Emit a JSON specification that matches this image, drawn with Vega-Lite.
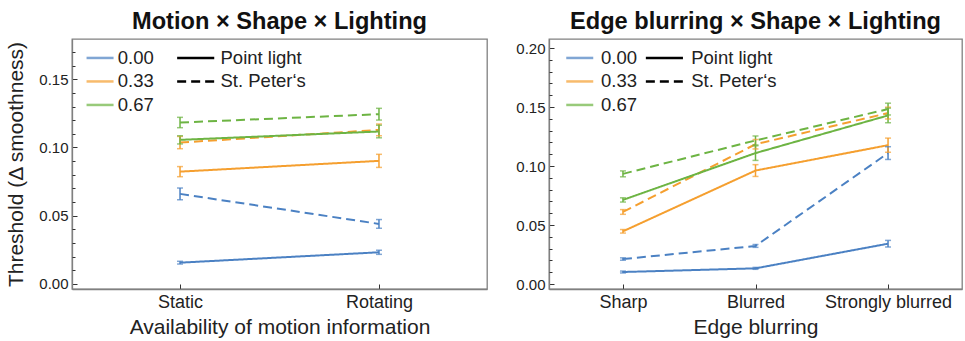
{
  "$schema": "https://vega.github.io/schema/vega-lite/v6.json",
  "background": "white",
  "padding": {"left": 5, "top": 9, "right": 0, "bottom": 0},
  "config": {
    "font": "Liberation Sans",
    "view": {"stroke": "#808080", "strokeWidth": 1.3},
    "axis": {"domainColor": "#808080", "domainWidth": 1.3, "tickColor": "#333333", "tickWidth": 1, "grid": false, "labelColor": "#222222", "titleColor": "#222222", "titleFontWeight": "normal", "titleFontSize": 21, "labelFont": "Liberation Sans", "titleFont": "Liberation Sans"},
    "title": {"fontSize": 23.6, "fontWeight": "bold", "color": "#111111", "anchor": "middle", "frame": "group", "offset": 5},
    "concat": {"spacing": 27},
    "legend": {"labelColor": "#222222", "labelFontSize": 18.5, "padding": 0, "symbolOffset": 0, "rowPadding": 4.5, "symbolSize": 196, "symbolStrokeWidth": 2.5, "labelLimit": 300}
  },
  "datasets": {
    "motion": [
      {"cond": "Static", "xi": 0, "blur": "0.00", "light": "Point light", "y": 0.0156, "lo": 0.0146, "hi": 0.0166},
      {"cond": "Rotating", "xi": 1, "blur": "0.00", "light": "Point light", "y": 0.0232, "lo": 0.0217, "hi": 0.0247},
      {"cond": "Static", "xi": 0, "blur": "0.00", "light": "St. Peter‘s", "y": 0.066, "lo": 0.0617, "hi": 0.0703},
      {"cond": "Rotating", "xi": 1, "blur": "0.00", "light": "St. Peter‘s", "y": 0.044, "lo": 0.0408, "hi": 0.0472},
      {"cond": "Static", "xi": 0, "blur": "0.33", "light": "Point light", "y": 0.0823, "lo": 0.0786, "hi": 0.086},
      {"cond": "Rotating", "xi": 1, "blur": "0.33", "light": "Point light", "y": 0.0902, "lo": 0.0854, "hi": 0.095},
      {"cond": "Static", "xi": 0, "blur": "0.33", "light": "St. Peter‘s", "y": 0.1036, "lo": 0.0991, "hi": 0.1081},
      {"cond": "Rotating", "xi": 1, "blur": "0.33", "light": "St. Peter‘s", "y": 0.1129, "lo": 0.1086, "hi": 0.1172},
      {"cond": "Static", "xi": 0, "blur": "0.67", "light": "Point light", "y": 0.1056, "lo": 0.1026, "hi": 0.1086},
      {"cond": "Rotating", "xi": 1, "blur": "0.67", "light": "Point light", "y": 0.1117, "lo": 0.1071, "hi": 0.1163},
      {"cond": "Static", "xi": 0, "blur": "0.67", "light": "St. Peter‘s", "y": 0.1183, "lo": 0.1145, "hi": 0.1221},
      {"cond": "Rotating", "xi": 1, "blur": "0.67", "light": "St. Peter‘s", "y": 0.1244, "lo": 0.1201, "hi": 0.1287}
    ],
    "edge": [
      {"cond": "Sharp", "xi": 0, "blur": "0.00", "light": "Point light", "y": 0.0102, "lo": 0.0094, "hi": 0.011},
      {"cond": "Blurred", "xi": 1, "blur": "0.00", "light": "Point light", "y": 0.0133, "lo": 0.0125, "hi": 0.0141},
      {"cond": "Strongly blurred", "xi": 2, "blur": "0.00", "light": "Point light", "y": 0.0342, "lo": 0.0314, "hi": 0.037},
      {"cond": "Sharp", "xi": 0, "blur": "0.00", "light": "St. Peter‘s", "y": 0.0212, "lo": 0.0202, "hi": 0.0222},
      {"cond": "Blurred", "xi": 1, "blur": "0.00", "light": "St. Peter‘s", "y": 0.0323, "lo": 0.0311, "hi": 0.0335},
      {"cond": "Strongly blurred", "xi": 2, "blur": "0.00", "light": "St. Peter‘s", "y": 0.111, "lo": 0.1056, "hi": 0.1164},
      {"cond": "Sharp", "xi": 0, "blur": "0.33", "light": "Point light", "y": 0.0447, "lo": 0.0432, "hi": 0.0462},
      {"cond": "Blurred", "xi": 1, "blur": "0.33", "light": "Point light", "y": 0.0962, "lo": 0.0912, "hi": 0.1012},
      {"cond": "Strongly blurred", "xi": 2, "blur": "0.33", "light": "Point light", "y": 0.1177, "lo": 0.1117, "hi": 0.1237},
      {"cond": "Sharp", "xi": 0, "blur": "0.33", "light": "St. Peter‘s", "y": 0.0611, "lo": 0.0591, "hi": 0.0631},
      {"cond": "Blurred", "xi": 1, "blur": "0.33", "light": "St. Peter‘s", "y": 0.1185, "lo": 0.1145, "hi": 0.1225},
      {"cond": "Strongly blurred", "xi": 2, "blur": "0.33", "light": "St. Peter‘s", "y": 0.1449, "lo": 0.1399, "hi": 0.1499},
      {"cond": "Sharp", "xi": 0, "blur": "0.67", "light": "Point light", "y": 0.0713, "lo": 0.0695, "hi": 0.0731},
      {"cond": "Blurred", "xi": 1, "blur": "0.67", "light": "Point light", "y": 0.111, "lo": 0.1048, "hi": 0.1172},
      {"cond": "Strongly blurred", "xi": 2, "blur": "0.67", "light": "Point light", "y": 0.1429, "lo": 0.1367, "hi": 0.1491},
      {"cond": "Sharp", "xi": 0, "blur": "0.67", "light": "St. Peter‘s", "y": 0.0934, "lo": 0.0909, "hi": 0.0959},
      {"cond": "Blurred", "xi": 1, "blur": "0.67", "light": "St. Peter‘s", "y": 0.1217, "lo": 0.1179, "hi": 0.1255},
      {"cond": "Strongly blurred", "xi": 2, "blur": "0.67", "light": "St. Peter‘s", "y": 0.1483, "lo": 0.1433, "hi": 0.1533}
    ]
  },
  "hconcat": [
    {
      "width": 415,
      "height": 250,
      "title": {"text": "Motion × Shape × Lighting"},
      "data": {"name": "motion"},
      "encoding": {
        "x": {"field": "cond", "type": "nominal", "sort": ["Static", "Rotating"], "scale": {"type": "point", "padding": 0.543},
          "axis": {"title": "Availability of motion information", "labelAngle": 0, "labelFontSize": 18, "tickSize": -5, "labelPadding": 9, "titlePadding": 5}},
        "color": {"field": "blur", "type": "nominal", "scale": {"domain": ["0.00", "0.33", "0.67"], "range": ["#4b81c3", "#f59f2f", "#6db443"]},
          "legend": {"orient": "none", "legendX": 25.3, "legendY": 9.7, "title": null, "symbolType": "M-2.857,0H1", "labelOffset": 2}}
      },
      "layer": [
        {
          "mark": {"type": "line", "strokeWidth": 2},
          "encoding": {
            "y": {"field": "y", "type": "quantitative", "scale": {"domain": [-0.0037, 0.1795], "nice": false, "zero": false},
              "axis": {"title": "Threshold (Δ smoothness)", "values": [0, 0.05, 0.1, 0.15], "format": ".2f", "labelFontSize": 15, "tickSize": -5, "labelPadding": 9, "titlePadding": 12}},
            "strokeDash": {"field": "light", "type": "nominal", "scale": {"domain": ["Point light", "St. Peter‘s"], "range": [[1, 0], [9, 5]]},
              "legend": {"orient": "none", "legendX": 126, "legendY": 9.7, "title": null, "symbolType": "M-4.3,0H1", "symbolStrokeColor": "black", "labelOffset": 4}},
            "order": {"field": "xi", "type": "quantitative"}
          }
        },
        {
          "mark": {"type": "rule", "strokeWidth": 1.5},
          "encoding": {
            "y": {"field": "lo", "type": "quantitative", "scale": {"domain": [-0.0037, 0.1795], "nice": false, "zero": false},
              "axis": {"orient": "left", "title": null, "values": [0.01, 0.02, 0.03, 0.04, 0.06, 0.07, 0.08, 0.09, 0.11, 0.12, 0.13, 0.14, 0.16, 0.17], "labels": false, "domain": false, "tickSize": -3}},
            "y2": {"field": "hi"}
          }
        },
        {
          "mark": {"type": "tick", "thickness": 1.5, "size": 6},
          "encoding": {"y": {"field": "lo", "type": "quantitative", "axis": null}}
        },
        {
          "mark": {"type": "tick", "thickness": 1.5, "size": 6},
          "encoding": {"y": {"field": "hi", "type": "quantitative", "axis": null}}
        }
      ],
      "resolve": {"axis": {"y": "independent"}}
    },
    {
      "width": 413,
      "height": 250,
      "title": {"text": "Edge blurring × Shape × Lighting"},
      "data": {"name": "edge"},
      "encoding": {
        "x": {"field": "cond", "type": "nominal", "sort": ["Sharp", "Blurred", "Strongly blurred"], "scale": {"type": "point", "padding": 0.558},
          "axis": {"title": "Edge blurring", "labelAngle": 0, "labelFontSize": 18, "tickSize": -5, "labelPadding": 9, "titlePadding": 5}},
        "color": {"field": "blur", "type": "nominal", "scale": {"domain": ["0.00", "0.33", "0.67"], "range": ["#4b81c3", "#f59f2f", "#6db443"]},
          "legend": {"orient": "none", "legendX": 28, "legendY": 9.7, "title": null, "symbolType": "M-2.857,0H1", "labelOffset": 5.5}}
      },
      "layer": [
        {
          "mark": {"type": "line", "strokeWidth": 2},
          "encoding": {
            "y": {"field": "y", "type": "quantitative", "scale": {"domain": [-0.0042, 0.2077], "nice": false, "zero": false},
              "axis": {"title": null, "values": [0, 0.05, 0.1, 0.15, 0.2], "format": ".2f", "labelFontSize": 15, "tickSize": -5, "labelPadding": 9}},
            "strokeDash": {"field": "light", "type": "nominal", "scale": {"domain": ["Point light", "St. Peter‘s"], "range": [[1, 0], [9, 5]]},
              "legend": {"orient": "none", "legendX": 117.7, "legendY": 9.7, "title": null, "symbolType": "M-4.3,0H1", "symbolStrokeColor": "black", "labelOffset": 6}},
            "order": {"field": "xi", "type": "quantitative"}
          }
        },
        {
          "mark": {"type": "rule", "strokeWidth": 1.5},
          "encoding": {
            "y": {"field": "lo", "type": "quantitative", "scale": {"domain": [-0.0042, 0.2077], "nice": false, "zero": false},
              "axis": {"orient": "left", "title": null, "values": [0.01, 0.02, 0.03, 0.04, 0.06, 0.07, 0.08, 0.09, 0.11, 0.12, 0.13, 0.14, 0.16, 0.17, 0.18, 0.19], "labels": false, "domain": false, "tickSize": -3}},
            "y2": {"field": "hi"}
          }
        },
        {
          "mark": {"type": "tick", "thickness": 1.5, "size": 6},
          "encoding": {"y": {"field": "lo", "type": "quantitative", "axis": null}}
        },
        {
          "mark": {"type": "tick", "thickness": 1.5, "size": 6},
          "encoding": {"y": {"field": "hi", "type": "quantitative", "axis": null}}
        }
      ],
      "resolve": {"axis": {"y": "independent"}}
    }
  ],
  "resolve": {"scale": {"color": "independent", "strokeDash": "independent"}, "legend": {"color": "independent", "strokeDash": "independent"}}
}
